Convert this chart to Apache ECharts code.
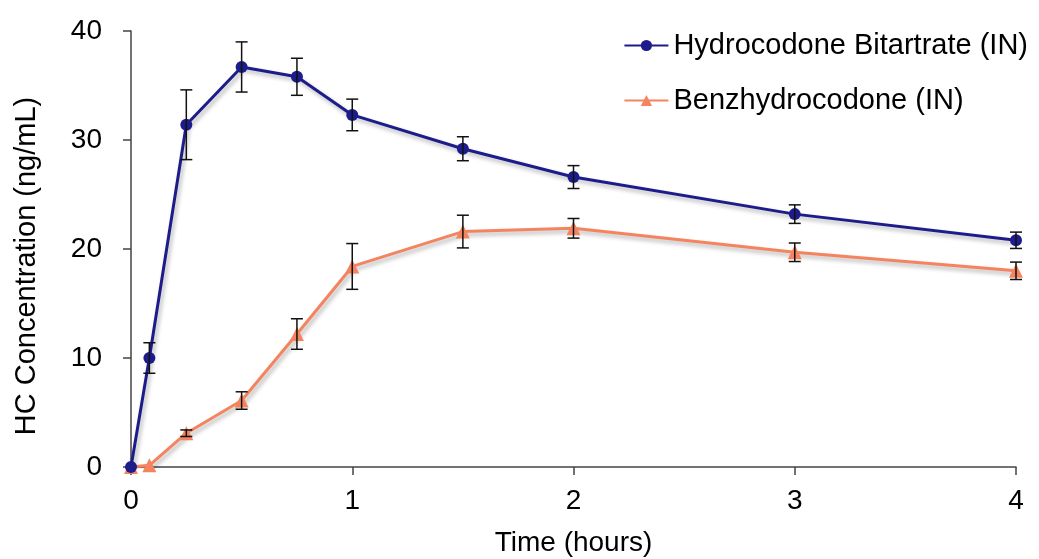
<!DOCTYPE html>
<html><head><meta charset="utf-8">
<script src="https://cdn.jsdelivr.net/npm/echarts@6/dist/echarts.min.js"></script>
<style>html,body{margin:0;padding:0;background:#fff}#c{width:1039px;height:559px}</style>
</head><body><div id="c"></div>
<script>
const times = [0, 0.083, 0.25, 0.5, 0.75, 1, 1.5, 2, 3, 4];
const hbValues = [0, 10.0, 31.4, 36.7, 35.8, 32.3, 29.2, 26.6, 23.2, 20.8];
const hbErrors = [0, 1.4, 3.2, 2.3, 1.7, 1.45, 1.1, 1.05, 0.85, 0.75];
const bzValues = [0, 0.15, 3.1, 6.1, 12.2, 18.4, 21.6, 21.9, 19.7, 18.0];
const bzErrors = [0, 0, 0.3, 0.8, 1.4, 2.1, 1.5, 0.9, 0.85, 0.8];
const seriesNames = ['Hydrocodone Bitartrate (IN)', 'Benzhydrocodone (IN)'];
const xTicks = [0, 1, 2, 3, 4];
const yTicks = [0, 10, 20, 30, 40];

const font = 'Liberation Sans, Arial, sans-serif';
const blue = '#1c1c8a';
const orange = '#f4845f';

function errData(vals, errs) {
  return times.map((t, i) => [t, vals[i], errs[i]]);
}
function errRender(params, api) {
  const x = api.value(0), y = api.value(1), e = api.value(2);
  if (!e) return null;
  const top = api.coord([x, y + e]);
  const bot = api.coord([x, y - e]);
  const w = 6;
  const style = {stroke: '#111', lineWidth: 1.5};
  return {type: 'group', children: [
    {type: 'line', shape: {x1: top[0], y1: top[1], x2: bot[0], y2: bot[1]}, style},
    {type: 'line', shape: {x1: top[0] - w, y1: top[1], x2: top[0] + w, y2: top[1]}, style},
    {type: 'line', shape: {x1: bot[0] - w, y1: bot[1], x2: bot[0] + w, y2: bot[1]}, style}
  ]};
}
const shadow = {shadowColor: 'rgba(0,0,0,0.3)', shadowBlur: 4, shadowOffsetX: 2, shadowOffsetY: 3};

const chart = echarts.init(document.getElementById('c'), null, {renderer: 'canvas'});
chart.setOption({
  animation: false,
  backgroundColor: '#fff',
  grid: {left: 131, right: 23, top: 31, bottom: 92, containLabel: false, outerBoundsMode: 'none'},
  legend: {
    orient: 'vertical', right: 6, top: 26, itemGap: 26,
    itemWidth: 44, itemHeight: 14,
    data: seriesNames,
    textStyle: {fontFamily: font, fontSize: 29, color: '#000'}
  },
  xAxis: {
    type: 'value', min: 0, max: 4, interval: 1,
    name: 'Time (hours)', nameLocation: 'middle', nameGap: 62,
    nameTextStyle: {fontFamily: font, fontSize: 28, color: '#000'},
    axisLine: {lineStyle: {color: '#444', width: 1.5}},
    axisTick: {show: true, length: 8, lineStyle: {color: '#444', width: 1.5}},
    axisLabel: {fontFamily: font, fontSize: 28, color: '#000', margin: 20,
      formatter: v => xTicks.includes(v) ? String(v) : ''},
    splitLine: {show: false}
  },
  yAxis: {
    type: 'value', min: 0, max: 40, interval: 10,
    name: 'HC Concentration (ng/mL)', nameLocation: 'middle', nameGap: 90,
    nameTextStyle: {fontFamily: font, fontSize: 29, color: '#000', padding: [0, 34, 0, 0]},
    axisLine: {show: true, lineStyle: {color: '#444', width: 1.5}},
    axisTick: {show: true, length: 8, lineStyle: {color: '#444', width: 1.5}},
    axisLabel: {fontFamily: font, fontSize: 28, color: '#000', margin: 29,
      formatter: v => yTicks.includes(v) ? String(v) : ''},
    splitLine: {show: false}
  },
  series: [
    {
      name: seriesNames[0], type: 'line', z: 3,
      data: times.map((t, i) => [t, hbValues[i]]),
      symbol: 'circle', symbolSize: 12,
      itemStyle: {color: blue},
      lineStyle: Object.assign({color: blue, width: 3}, shadow)
    },
    {
      name: seriesNames[1], type: 'line', z: 2,
      data: times.map((t, i) => [t, bzValues[i]]),
      symbol: 'triangle', symbolSize: 14,
      itemStyle: {color: orange},
      lineStyle: Object.assign({color: orange, width: 3}, shadow)
    },
    {type: 'custom', z: 4, renderItem: errRender, data: errData(hbValues, hbErrors), silent: true},
    {type: 'custom', z: 4, renderItem: errRender, data: errData(bzValues, bzErrors), silent: true}
  ]
});
</script></body></html>
